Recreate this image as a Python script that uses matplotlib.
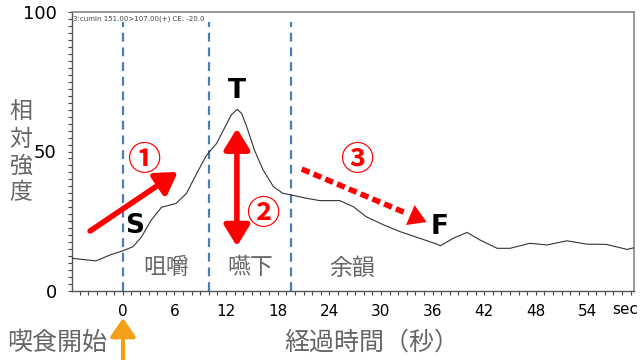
import matplotlib
matplotlib.use("Agg")
import matplotlib.pyplot as plt
from matplotlib.ticker import MultipleLocator, FixedLocator

plt.rcParams['font.family'] = ['Noto Sans CJK JP', 'DejaVu Sans']

# ---- data ----
time_sec = [-5.9, -3.1, -1.5, 0.0, 1.2, 2.2, 3.3, 4.5, 6.2, 7.4, 8.6, 9.7, 10.9,
            11.5, 12.1, 12.6, 13.3, 13.8, 14.4, 15.3, 16.3, 17.5, 18.6, 19.6, 21.4,
            22.9, 25.2, 26.8, 28.3, 30.3, 32.2, 34.5, 36.5, 36.9, 38.4, 40.0, 41.5,
            43.5, 45.0, 47.3, 49.3, 51.6, 53.9, 56.2, 58.6, 59.4]
intensity = [11.7, 10.8, 12.9, 14.4, 15.9, 19.5, 25.4, 30.0, 31.4, 35.0, 42.2,
             48.5, 52.9, 56.5, 60.1, 63.1, 65.1, 63.7, 58.9, 50.5, 43.4, 37.4, 35.0,
             34.4, 33.2, 32.4, 32.4, 30.2, 26.6, 23.7, 21.3, 18.9, 16.8, 16.2, 18.9,
             21.0, 18.3, 15.3, 15.3, 17.1, 16.5, 18.0, 16.8, 16.7, 14.9, 15.5]
phase_bounds = [0, 10, 19.6]
phase_names = ["咀嚼", "嚥下", "余韻"]
phase_label_x = [5, 14.8, 26.6]
x_major = [0, 6, 12, 18, 24, 30, 36, 42, 48, 54]
y_major = [0, 50, 100]
x_lim = (-5.9, 59.4)
y_lim = (0, 100)

fig = plt.figure(figsize=(6.4, 3.6), dpi=100)
ax = fig.add_axes([72/640, 1-291/360, (634-72)/640, (291-12)/360])

ax.plot(time_sec, intensity, color='#333333', lw=0.8, zorder=3)

for b in phase_bounds:
    ax.plot([b, b], [0, 96.5], color='#4a7ebb', lw=1.6,
            linestyle=(0, (4, 2.6)), zorder=2, clip_on=False)

ax.set_xlim(*x_lim)
ax.set_ylim(*y_lim)
ax.xaxis.set_major_locator(FixedLocator(x_major))
ax.xaxis.set_minor_locator(MultipleLocator(1))
ax.yaxis.set_major_locator(FixedLocator(y_major))
ax.yaxis.set_minor_locator(MultipleLocator(2.5))
ax.tick_params(axis='x', which='both', direction='out', length=3, width=0.8,
               color='#444444', labelsize=11, pad=6)
ax.tick_params(axis='y', which='both', direction='out', length=3, width=0.8,
               color='#444444', labelsize=13, pad=8)
for lab in ax.get_xticklabels() + ax.get_yticklabels():
    lab.set_fontfamily(['DejaVu Sans'])
for s in ['left', 'bottom']:
    ax.spines[s].set_color('#555555')
    ax.spines[s].set_linewidth(1.0)
for s in ['top', 'right']:
    ax.spines[s].set_color('#888888')
    ax.spines[s].set_linewidth(1.2)

# header text
ax.text(0.001, 0.988, "3:cumin 151.00>107.00(+) CE: -20.0", transform=ax.transAxes,
        fontsize=5, color='#444444', va='top', ha='left', family=['DejaVu Sans'])

# phase labels
for name, px in zip(phase_names, phase_label_x):
    ax.text(px, 8.3, name, fontsize=16.5, color='#666666', ha='center', va='center')

# point labels
ax.text(13.3, 71.8, "T", fontsize=19, fontweight='bold', ha='center', va='center',
        family=['DejaVu Sans'])
ax.text(1.4, 23.3, "S", fontsize=19, fontweight='bold', ha='center', va='center',
        family=['DejaVu Sans'])
ax.text(36.8, 22.8, "F", fontsize=19, fontweight='bold', ha='center', va='center',
        family=['DejaVu Sans'])

red = '#ff0000'
ax.text(2.45, 46.8, "①", fontsize=24, fontweight='bold', color=red, ha='center', va='center')
ax.text(16.3, 27.3, "②", fontsize=24, fontweight='bold', color=red, ha='center', va='center')
ax.text(27.2, 46.8, "③", fontsize=24, fontweight='bold', color=red, ha='center', va='center')

# arrow 1
ax.annotate("", xy=(6.4, 42.7), xytext=(-3.8, 21.5),
            arrowprops=dict(arrowstyle='-|>,head_length=0.9,head_width=0.55',
                            color=red, lw=4, mutation_scale=14, shrinkA=0, shrinkB=0))
# arrow 2 (double)
ax.annotate("", xy=(13.26, 58.3), xytext=(13.26, 16.0),
            arrowprops=dict(arrowstyle='<|-|>,head_length=0.9,head_width=0.55',
                            color=red, lw=4, mutation_scale=14, shrinkA=0, shrinkB=0))
# arrow 3 (dashed)
ax.plot([20.8, 33.0], [43.7, 27.8], color=red, lw=4, linestyle=(0, (1.5, 0.8)),
        solid_capstyle='butt', dash_capstyle='butt')
ax.annotate("", xy=(35.3, 24.7), xytext=(33.2, 27.5),
            arrowprops=dict(arrowstyle='-|>,head_length=0.9,head_width=0.55',
                            color=red, lw=0.1, mutation_scale=14, shrinkA=0, shrinkB=0))

# outside texts
gray = '#666666'
fig.text(7/640, 1-343/360, "喫食開始", fontsize=18, color=gray, ha='left', va='center')
fig.text(372/640, 1-343/360, "経過時間（秒）", fontsize=18, color=gray, ha='center', va='center')
for ch, yy in zip("相対強度", [112, 139, 166, 193]):
    fig.text(21/640, 1-yy/360, ch, fontsize=16.5, color=gray, ha='center', va='center')
fig.text(625/640, 1-310/360, "sec", fontsize=11, color='black', ha='center', va='center',
         family=['DejaVu Sans'])

# orange arrow
ax.annotate("", xy=(123, 360-318), xytext=(123, 0), xycoords='figure pixels',
            textcoords='figure pixels',
            arrowprops=dict(arrowstyle='-|>,head_length=0.8,head_width=0.55',
                            color='#f5a01a', lw=3, mutation_scale=14, shrinkA=0, shrinkB=0))

fig.savefig("out.png", dpi=100)
